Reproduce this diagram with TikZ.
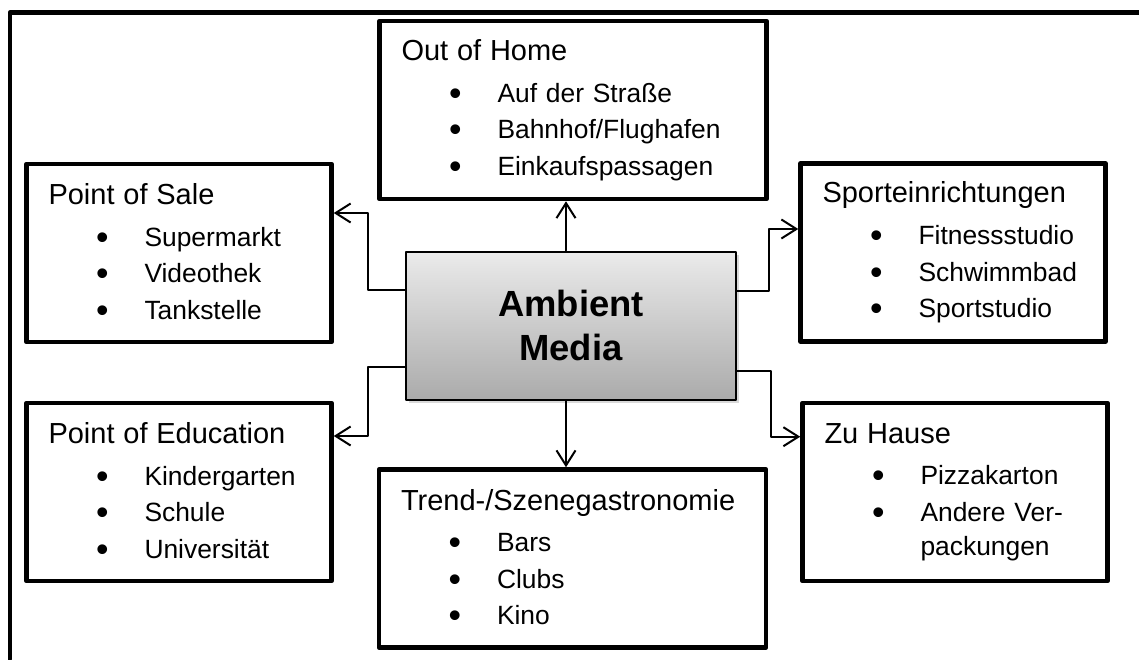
\documentclass[tikz,border=0pt]{standalone}
\usepackage{fontspec}
\usepackage{graphicx}
\setmainfont{Liberation Sans}
\usetikzlibrary{arrows.meta,shadows}
\tikzset{
	feld/.style={draw, line width=2.25pt, align=left, inner xsep=11pt, inner ysep=0pt, font=\fontsize{13.2pt}{17pt}\selectfont},
	seite/.style={minimum width=152.5pt, minimum height=89pt, text width=130.5pt},
	breit/.style={minimum width=193.5pt, minimum height=89pt, text width=171.5pt},
	zentrum/.style={draw, line width=1pt, top color=black!8, bottom color=black!33, minimum width=165pt, minimum height=74pt, align=center, font=\fontsize{18.2pt}{22pt}\selectfont\bfseries, drop shadow={shadow xshift=1.5pt, shadow yshift=-1.5pt, opacity=0.3}},
	pfeil/.style={-{Straight Barb[length=7.5pt,width=9.5pt]}, line width=1pt}
}
\newcommand{\punkt}{\makebox[48pt][l]{\hspace{23.8pt}\raisebox{-1.5pt}{\scalebox{1.35}{\textbullet}}}}
\newcommand{\titel}[1]{{\fontsize{14.5pt}{17pt}\selectfont #1}}
\begin{document}
\begin{tikzpicture}[x=0.5pt, y=-0.5pt, line join=round, line cap=round]
	\useasboundingbox (0,0) rectangle (1139,659);
	\draw[line width=2.25pt] (10,659) -- (10,12.5) -- (1139,12.5);
	\node[zentrum] (am) at (571,325.5) {Ambient\\Media};
	\node[feld, breit] (oh) at (573,110) {\titel{Out of Home}\\[3.85pt]
		\punkt Auf der Straße\\[1.3pt]
		\punkt Bahnhof/Flughafen\\[1.3pt]
		\punkt Einkaufspassagen};
	\node[feld, seite] (pos) at (179,253) {\titel{Point of Sale}\\[3.85pt]
		\punkt Supermarkt\\[1.3pt]
		\punkt Videothek\\[1.3pt]
		\punkt Tankstelle};
	\node[feld, seite] (sp) at (953,252.5) {\titel{Sporteinrichtungen}\\[3.85pt]
		\punkt Fitnessstudio\\[1.3pt]
		\punkt Schwimmbad\\[1.3pt]
		\punkt Sportstudio};
	\node[feld, seite] (poe) at (179,492) {\titel{Point of Education}\\[3.85pt]
		\punkt Kindergarten\\[1.3pt]
		\punkt Schule\\[1.3pt]
		\punkt Universität};
	\node[feld, seite] (zh) at (955,492) {\titel{Zu Hause}\\[3.85pt]
		\punkt Pizzakarton\\[1.3pt]
		\punkt Andere Ver-\\
		\hspace*{48pt}packungen};
	\node[feld, breit] (tr) at (572.5,558.5) {\titel{Trend-/Szenegastronomie}\\[3.85pt]
		\punkt Bars\\[1.3pt]
		\punkt Clubs\\[1.3pt]
		\punkt Kino};
	\coordinate (achse) at (566,0);
	\draw[pfeil] (am.north -| achse) -- (oh.south -| achse);
	\draw[pfeil] (am.south -| achse) -- (tr.north -| achse);
	\draw[pfeil] ([yshift=17.75pt]am.west) -- ++(-37,0) |- ([yshift=20pt]pos.east);
	\draw[pfeil] ([yshift=-20.75pt]am.west) -- ++(-37,0) |- ([yshift=28pt]poe.east);
	\draw[pfeil] ([yshift=17.25pt]am.east) -- ++(32,0) |- ([yshift=11.75pt]sp.west);
	\draw[pfeil] ([yshift=-22.6pt]am.east) -- ++(34,0) |- ([yshift=27.65pt]zh.west);
\end{tikzpicture}
\end{document}
